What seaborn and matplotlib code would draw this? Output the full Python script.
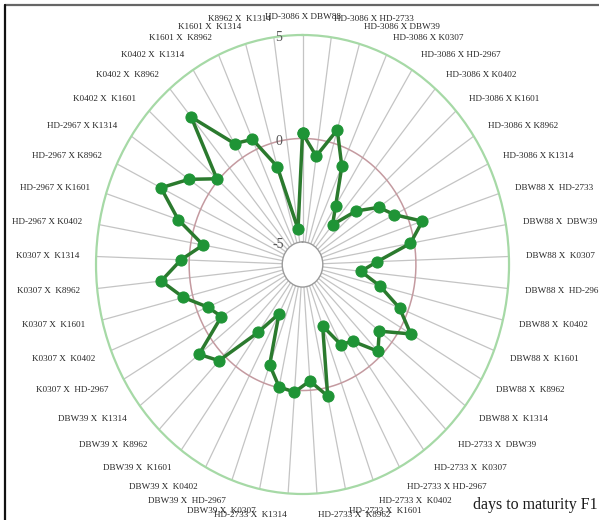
import numpy as np
import pandas as pd
import matplotlib
matplotlib.use("Agg")
import matplotlib.pyplot as plt
from matplotlib.lines import Line2D
import seaborn as sns

# Crosses (F1 hybrids) in radar order, clockwise from the top
crosses = [
    "HD-3086 X DBW88", "HD-3086 X HD-2733", "HD-3086 X DBW39", "HD-3086 X K0307",
    "HD-3086 X HD-2967", "HD-3086 X K0402", "HD-3086 X K1601", "HD-3086 X K8962",
    "HD-3086 X K1314", "DBW88 X  HD-2733", "DBW88 X  DBW39", "DBW88 X  K0307",
    "DBW88 X  HD-2967", "DBW88 X  K0402", "DBW88 X  K1601", "DBW88 X  K8962",
    "DBW88 X  K1314", "HD-2733 X  DBW39", "HD-2733 X  K0307", "HD-2733 X HD-2967",
    "HD-2733 X  K0402", "HD-2733 X  K1601", "HD-2733 X  K8962", "HD-2733 X  K1314",
    "DBW39 X  K0307", "DBW39 X  HD-2967", "DBW39 X  K0402", "DBW39 X  K1601",
    "DBW39 X  K8962", "DBW39 X  K1314", "K0307 X  HD-2967", "K0307 X  K0402",
    "K0307 X  K1601", "K0307 X  K8962", "K0307 X  K1314", "HD-2967 X K0402",
    "HD-2967 X K1601", "HD-2967 X K8962", "HD-2967 X K1314", "K0402 X  K1601",
    "K0402 X  K8962", "K0402 X  K1314", "K1601 X  K8962", "K1601 X  K1314",
    "K8962 X  K1314",
]

# Heterosis for days to maturity in F1
days_to_maturity = [
    0.25, -0.80, 0.68, -0.90, -2.73, -3.58, -2.23, -1.15, -0.60, 0.68,
    -0.21, -2.07, -2.94, -1.81, -0.47, 0.62, -0.86, -0.26, -1.51, -1.71,
    -2.93, 0.41, -0.45, 0.09, -0.04, -0.93, -3.40, -2.04, 0.37, 0.96,
    -1.06, -0.60, 0.50, 1.54, 0.44, -0.67, 0.93, 2.37, 1.27, 0.10,
    3.21, 0.80, 0.53, -1.17, -4.36,
]

radial_ticks = [-5, 0, 5]
title_text = "days to maturity F1"

sns.set_theme(style="white")
plt.rcParams["font.family"] = ["Liberation Serif", "DejaVu Serif"]

n = len(crosses)
theta = np.arange(n) * 2 * np.pi / n

fig = plt.figure(figsize=(5.99, 5.20), dpi=100)
fig.patch.set_facecolor("white")

ax = fig.add_axes([0.1603, 0.05, 0.6895, 0.8827], projection="polar")
ax.set_aspect("auto")
ax.set_theta_zero_location("N")
ax.set_theta_direction(-1)
ax.set_ylim(radial_ticks[0], radial_ticks[-1])
ax.set_rorigin(-6.09)
ax.set_facecolor("white")

# spokes
ax.set_xticks(theta)
ax.set_xticklabels([])
ax.xaxis.grid(True, color="#c4c4c4", linewidth=0.9)
ax.set_yticks(radial_ticks)
ax.set_yticklabels([])
ax.yaxis.grid(False)

ax.spines["polar"].set_color("#a6d9a6")
ax.spines["polar"].set_linewidth(1.6)
ax.spines["inner"].set_color("#9a9a9a")
ax.spines["inner"].set_linewidth(1.0)

# zero ring
ring = np.linspace(0, 2 * np.pi, 361)
ax.plot(ring, np.full_like(ring, radial_ticks[1]), color="#c49aa0", lw=1.1, zorder=1)

# data series (closed loop)
df = pd.DataFrame({
    "theta": np.append(theta, 2 * np.pi),
    "value": np.append(days_to_maturity, days_to_maturity[0]),
})
sns.lineplot(data=df, x="theta", y="value", sort=False, estimator=None, ax=ax,
             color="#2b7a2e", linewidth=2.5, marker="o", markersize=8,
             markerfacecolor="#1f9436", markeredgecolor="#1f9436", zorder=5)
ax.set_xlabel("")
ax.set_ylabel("")
ax.set_ylim(radial_ticks[0], radial_ticks[-1])

# radial scale labels along the top spoke
for r in radial_ticks:
    ax.annotate(str(r), xy=(0, r), xytext=(-24, -3), textcoords="offset pixels",
                ha="center", va="center", fontsize=10, color="#555555")

# category labels around the rim
for t, lab in zip(theta, crosses):
    s, c = np.sin(t), np.cos(t)
    dx = 17 * s
    dy = 18 * c if c > 0 else 22 * c
    if s > 0.01:
        ha = "left"
    elif s < -0.01:
        ha = "right"
    else:
        ha = "center"
    ax.annotate(lab, xy=(t, radial_ticks[-1]), xytext=(dx, dy),
                textcoords="offset pixels", ha=ha, va="center",
                fontsize=6.6, color="#262626", annotation_clip=False)

fig.text(0.997, 0.029, title_text, ha="right", va="center",
         fontsize=11.5, color="#1a1a1a")

# frame edges
fig.add_artist(Line2D([5 / 599, 1], [1 - 5 / 520] * 2, transform=fig.transFigure,
                      color="#666666", lw=1.6))
fig.add_artist(Line2D([5 / 599] * 2, [0, 1 - 5 / 520], transform=fig.transFigure,
                      color="#111111", lw=1.6))

fig.savefig("out.png", dpi=100, facecolor="white")
